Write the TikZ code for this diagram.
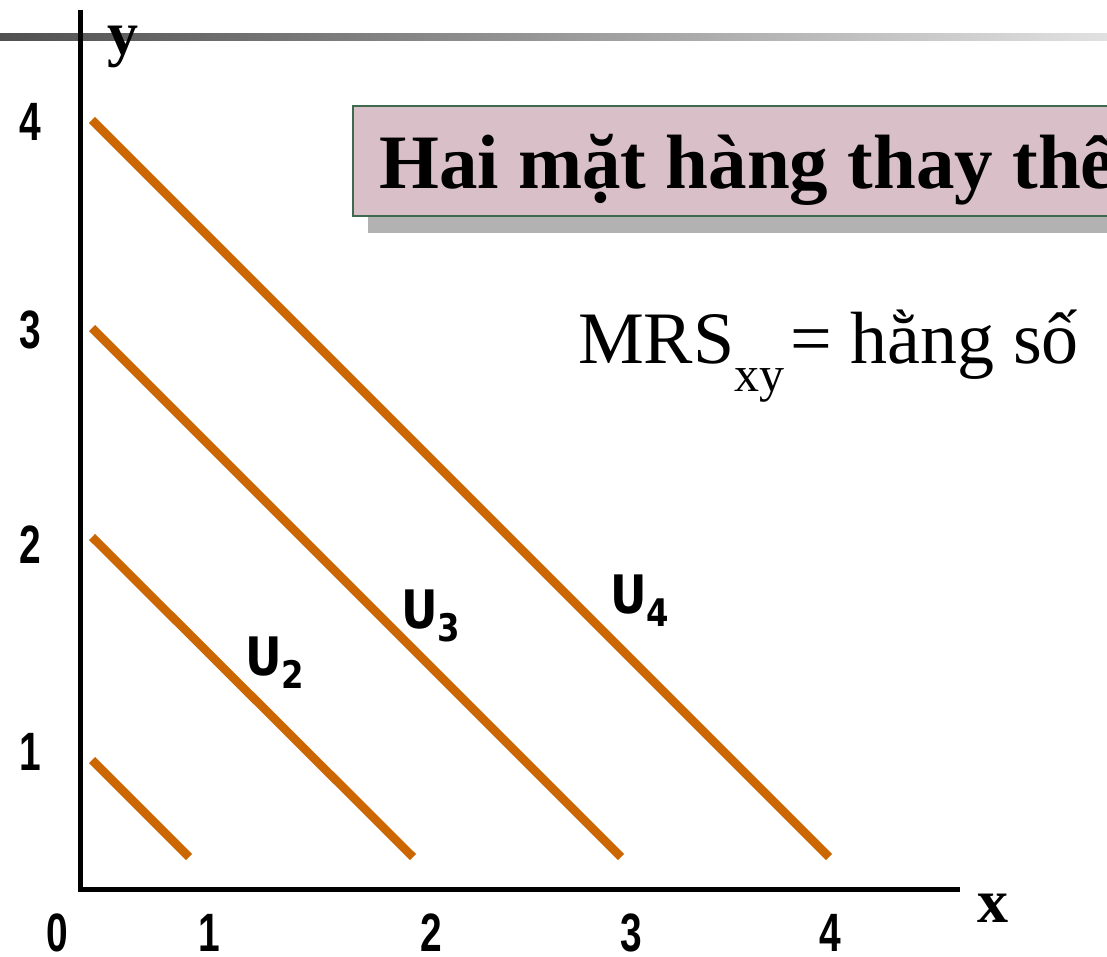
\documentclass[tikz,border=0pt]{standalone}
\usepackage{fontspec}
\setmainfont{Liberation Serif}
\newfontfamily\tickfont[FakeStretch=0.72]{Liberation Sans}
\newfontfamily\ufont[FakeStretch=0.85]{DejaVu Sans}
\definecolor{curve}{RGB}{204,102,0}
\definecolor{boxfill}{RGB}{216,191,200}
\definecolor{boxedge}{RGB}{62,107,78}
\definecolor{shadowgray}{RGB}{178,178,178}
\definecolor{ruledark}{RGB}{80,80,80}
\definecolor{rulelight}{RGB}{225,225,225}
\newcommand{\ulabel}[1]{{\ufont\bfseries\fontsize{53}{53}\selectfont U\raisebox{-13pt}{\fontsize{38}{38}\selectfont #1}}}

\begin{document}
\begin{tikzpicture}[x=1pt, y=-1pt,
    tick/.style={font=\tickfont\bfseries\fontsize{54}{54}\selectfont, inner sep=0},
    axlabel/.style={font=\bfseries\fontsize{62}{62}\selectfont, anchor=base, inner sep=0}]
  \useasboundingbox (0,0) rectangle (1107,957);
  \clip (0,0) rectangle (1107,957);
  % rule along the top
  \shade[left color=ruledark, right color=rulelight] (0,33.5) rectangle (1107,40.5);
  % title box with its shadow
  \fill[shadowgray] (368,121) rectangle (1120,233);
  \filldraw[fill=boxfill, draw=boxedge, line width=2.5pt] (353,106) rectangle (1120,216);
  \node[anchor=base west, inner sep=0, font=\bfseries\fontsize{77}{77}\selectfont]
    (title) at (379,189) {Hai mặt hàng thay thế};
  % axes
  \coordinate (o) at (80,889);
  \coordinate (ytop) at (80,10);
  \coordinate (xend) at (960,889);
  \draw[line width=5pt] (ytop) -- (o) -- (xend);
  \node[axlabel] (ylab) at (123,55) {y};
  \node[axlabel] (xlab) at (993,922) {x};
  \foreach \lab/\py in {4/122,3/330,2/545,1/752}
    \node[tick] (y\lab) at (30,\py) {\lab};
  \foreach \lab/\px in {0/57,1/209,2/431,3/631,4/830}
    \node[tick] (x\lab) at (\px,933) {\lab};
  % indifference lines
  \foreach \n/\ya/\xb in {1/760/189,2/537/413,3/328/621,4/120/829} {
    \coordinate (u\n a) at (92,\ya);
    \coordinate (u\n b) at (\xb,857);
    \draw[curve, line width=8.5pt] (u\n a) -- (u\n b);
  }
  \node[anchor=base west, inner sep=0] (u2) at (245,675) {\ulabel{2}};
  \node[anchor=base west, inner sep=0] (u3) at (401,628) {\ulabel{3}};
  \node[anchor=base west, inner sep=0] (u4) at (610,613) {\ulabel{4}};
  \node[anchor=base west, inner sep=0, font=\fontsize{74}{74}\selectfont]
    (mrs) at (578,363) {MRS\raisebox{-28pt}{\fontsize{50}{50}\selectfont xy}\kern6pt= hằng số};
\end{tikzpicture}
\end{document}
